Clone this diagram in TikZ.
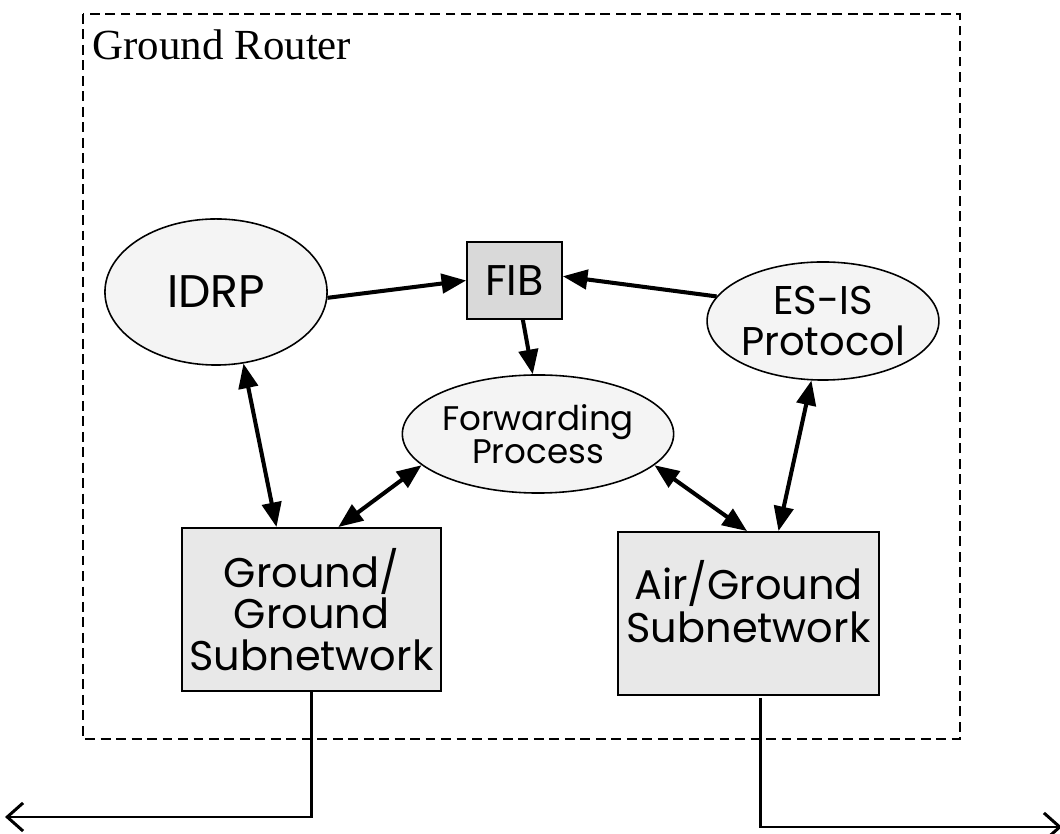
\documentclass[tikz,border=0pt]{standalone}
\usepackage{fontspec}
\setmainfont{Liberation Serif}
\newfontfamily\diagfont{Poppins}
\usepackage{tikz}
\usetikzlibrary{shapes.geometric, arrows.meta, positioning, calc}
\definecolor{procgray}{gray}{0.955}
\definecolor{fibgray}{gray}{0.85}
\definecolor{netgray}{gray}{0.91}
\tikzset{
    proc/.style={ellipse, draw, line width=0.45pt, fill=procgray, inner sep=0pt, align=center},
    table/.style={rectangle, draw, line width=0.45pt, fill=fibgray, inner sep=0pt},
    subnet/.style={rectangle, draw, line width=0.5pt, fill=netgray, inner sep=0pt, align=center},
    link/.style={-{Triangle[length=7pt,width=5.5pt]}, line width=1.15pt},
    duplex/.style={{Triangle[length=7pt,width=5.5pt]}-{Triangle[length=7pt,width=5.5pt]}, line width=1.15pt},
    exit/.style={-{Straight Barb[length=4.5pt,width=8pt]}, line width=0.85pt},
    routerbox/.style={draw, dashed, dash pattern=on 2.8pt off 1.6pt, line width=0.45pt}
}

\begin{document}
\begin{tikzpicture}[x=0.01cm, y=-0.01cm]
  \useasboundingbox (0,0) rectangle (1060,834);

  % router boundary
  \draw[routerbox] (83,14) rectangle (960,739);
  \node[anchor=base west, inner sep=0pt, font=\fontsize{12.2}{14}\selectfont] (title) at (92,60) {Ground Router};

  % processes and tables
  \node[proc, minimum width=2.22cm, minimum height=1.46cm,
        font=\diagfont\fontsize{13}{14}\selectfont] (idrp) at (216,292) {IDRP};
  \node[table, minimum width=0.95cm, minimum height=0.77cm,
        font=\diagfont\fontsize{12.2}{14}\selectfont] (fib) at (514.5,280.5) {FIB};
  \node[proc, minimum width=2.14cm, minimum height=1.18cm,
        font=\diagfont\fontsize{11.4}{11.9}\selectfont] (esis) at (823,321) {ES-IS\\Protocol};
  \node[proc, minimum width=2.48cm, minimum height=1.18cm,
        font=\diagfont\fontsize{9.7}{9.4}\selectfont] (fwd) at (538,434) {Forwarding\\Process};

  % subnetworks
  \node[subnet, minimum width=2.59cm, minimum height=1.63cm,
        font=\diagfont\fontsize{11.8}{11.9}\selectfont] (gg) at (311.5,609.5) {Ground/\\Ground\\Subnetwork};
  \node[subnet, minimum width=2.61cm, minimum height=1.63cm,
        font=\diagfont\fontsize{11.8}{12.2}\selectfont] (ag) at (748.5,613.5) {Air/Ground\\Subnetwork\\[-5.5pt]};

  % connections
  \draw[link] (idrp.-3) -- (fib.west);
  \draw[link] (esis.167) -- (fib.5);
  \draw[link] (fib.-78) -- (fwd.95);
  \draw[duplex] (idrp.-69) -- (gg.113);
  \draw[duplex] (fwd.195) -- (gg.72);
  \draw[duplex] (fwd.-15) -- (ag.91);
  \draw[duplex] (esis.-101) -- (ag.70);

  % links leaving the router
  \coordinate (ggout) at (5,817);
  \coordinate (agout) at (1062,827);
  \draw[exit] (gg.south) |- (ggout);
  \draw[exit] ($(ag.south)+(12,2)$) |- (agout);
\end{tikzpicture}
\end{document}
